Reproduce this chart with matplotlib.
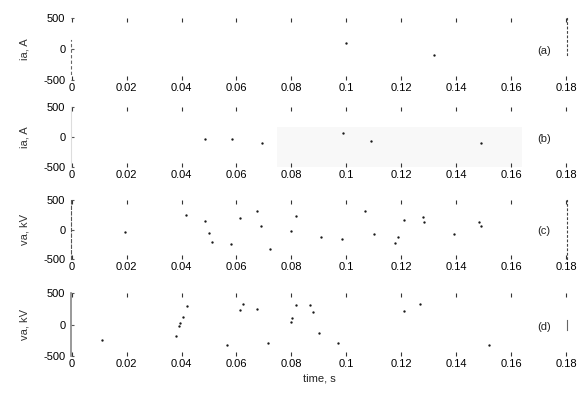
import numpy as np
import matplotlib
matplotlib.use("Agg")
import matplotlib.pyplot as plt

plt.rcParams['font.family'] = ['Liberation Sans', 'DejaVu Sans']
plt.rcParams['axes.unicode_minus'] = False

# x axis ticks shared by all panels
xticks = [0, 0.02, 0.04, 0.06, 0.08, 0.1, 0.12, 0.14, 0.16, 0.18]
xticklabels = ['0', '0.02', '0.04', '0.06', '0.08', '0.1', '0.12', '0.14', '0.16', '0.18']
yticks = [-500, 0, 500]

# traces that survive in the scan (time in s, value)
t_a = [0.100, 0.132]
v_a = [97, -97]

t_b = [0.0486, 0.0583, 0.0692, 0.0986, 0.109, 0.149]
v_b = [-33, -33, -95, 67, -60, -95]

t_c = [0.0193, 0.0416, 0.0486, 0.0500, 0.0512, 0.0579, 0.0612, 0.0673, 0.0691,
       0.0721, 0.0797, 0.0815, 0.0906, 0.0983, 0.1069, 0.1099, 0.1177, 0.1186,
       0.1210, 0.1279, 0.1283, 0.1391, 0.1482, 0.1488]
v_c = [-36, 246, 149, -64, -217, -246, 190, 320, 59,
       -339, -25, 234, -122, -161, 320, -76, -234, -122,
       161, 217, 132, -76, 132, 64]

t_d = [0.0111, 0.0380, 0.0392, 0.0395, 0.0405, 0.0419, 0.0566, 0.0612, 0.0622,
       0.0675, 0.0715, 0.0797, 0.0802, 0.0818, 0.0868, 0.0878, 0.0900, 0.0969,
       0.1208, 0.1268, 0.1518]
v_d = [-246, -178, -25, 20, 122, 291, -331, 234, 330,
       246, -291, 47, 105, 314, 314, 200, -132, -291,
       217, 330, -331]

panel_t = [t_a, t_b, t_c, t_d]
panel_v = [v_a, v_b, v_c, v_d]
ylabels = ['ia, A', 'ia, A', 'va, kV', 'va, kV']
tags = ['(a)', '(b)', '(c)', '(d)']

# faded strip in panel (b)
fade_t0, fade_t1, fade_top = 0.0746, 0.1638, 0.67

fig = plt.figure(figsize=(5.84, 3.93), dpi=100)
left, width = 0.1216, 0.849
bottoms = [0.796, 0.575, 0.341, 0.094]
heights = [0.158, 0.153, 0.150, 0.160]

for i in range(4):
    ax = fig.add_axes([left, bottoms[i], width, heights[i]])
    if i == 1:
        ax.axvspan(fade_t0, fade_t1, ymin=0, ymax=fade_top, color='#f8f8f8', lw=0)
    ax.plot(panel_t[i], panel_v[i], 'o', color='#1a1a1a', ms=1.7, mew=0)
    ax.set_xlim(-0.0002, 0.1802)
    ax.set_ylim(-500, 500)
    ax.set_xticks(xticks)
    ax.set_xticklabels(xticklabels)
    ax.set_yticks(yticks)
    ax.tick_params(axis='x', direction='in', top=True, length=3, width=0.8,
                   color='#333333', labelsize=8, pad=2)
    ax.tick_params(axis='y', direction='in', length=2, width=0.8,
                   color='#555555', labelsize=8, pad=4)
    ax.set_ylabel(ylabels[i], fontsize=8, labelpad=10, color='#333333')
    ax.text(0.172, -30, tags[i], fontsize=8, ha='center', va='center', color='#222222')
    ax.spines['top'].set_visible(False)
    ax.spines['bottom'].set_visible(False)
    ax.patch.set_alpha(0)

    if i == 0:
        ax.spines['left'].set_linestyle((0, (2, 3)))
        ax.spines['left'].set_color('#666666')
        ax.spines['left'].set_bounds(-400, 150)
        ax.spines['right'].set_linestyle((0, (1.5, 2.5)))
        ax.spines['right'].set_color('#444444')
        ax.spines['right'].set_bounds(-100, 500)
    elif i == 1:
        ax.spines['left'].set_color('#dddddd')
        ax.spines['right'].set_visible(False)
    elif i == 2:
        ax.spines['left'].set_linestyle((0, (3, 2)))
        ax.spines['left'].set_color('#555555')
        ax.spines['right'].set_linestyle((0, (1.5, 2.5)))
        ax.spines['right'].set_color('#444444')
    else:
        ax.spines['left'].set_color('#888888')
        ax.spines['left'].set_linewidth(1.2)
        ax.spines['right'].set_color('#666666')
        ax.spines['right'].set_bounds(-80, 80)
    if i == 3:
        ax.set_xlabel('time, s', fontsize=8, labelpad=3, color='#222222')

fig.savefig('out.png', dpi=100)
